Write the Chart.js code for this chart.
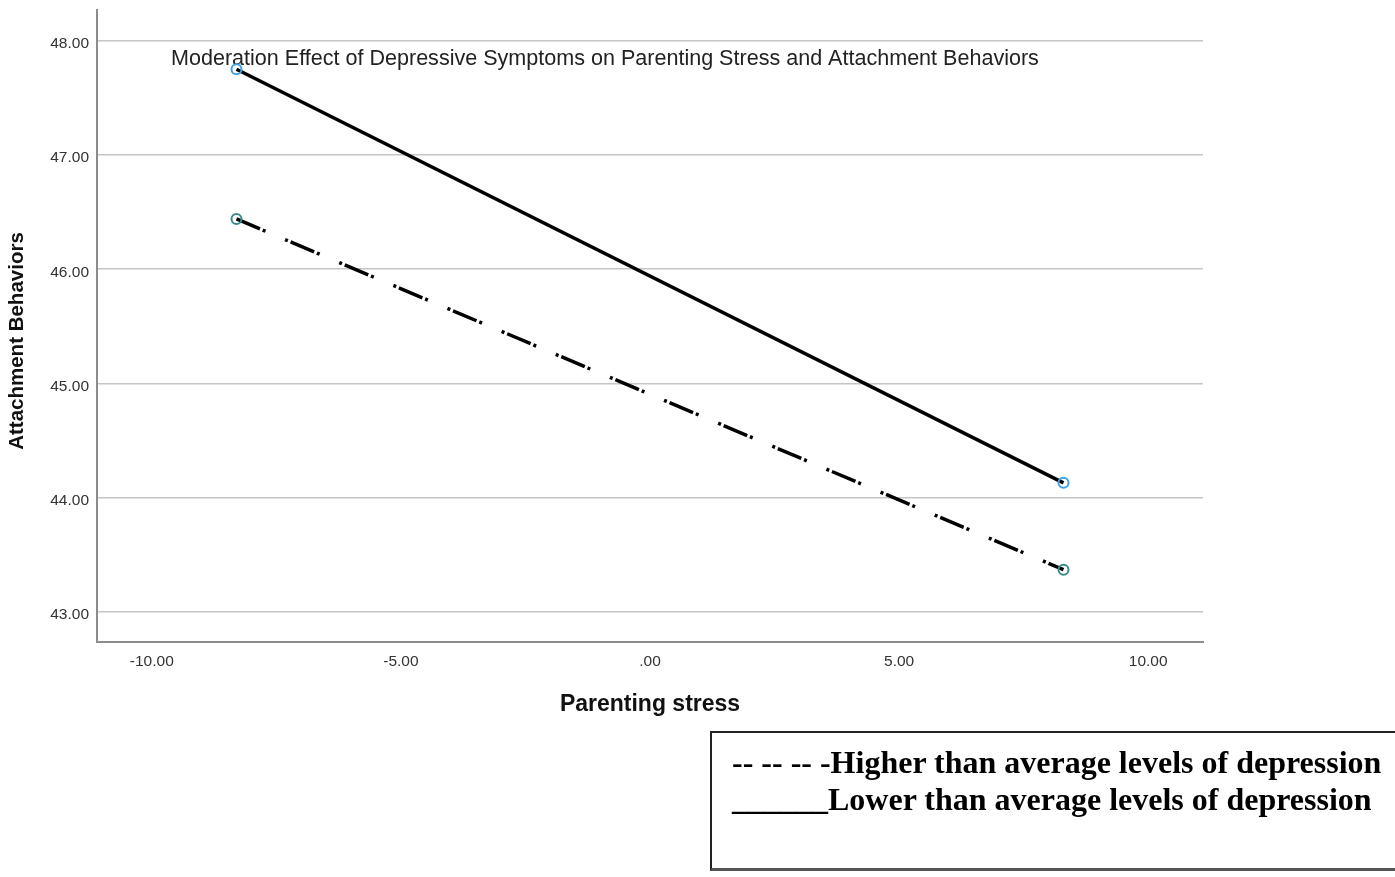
<!DOCTYPE html>
<html>
<head>
<meta charset="utf-8">
<script src="https://cdn.jsdelivr.net/npm/chart.js@4.4.1/dist/chart.umd.min.js"></script>
<style>
  body { margin: 0; background: #fff; }
  #wrap { position: relative; width: 1395px; height: 877px; overflow: hidden; }
  #legendBox {
    position: absolute; left: 710px; top: 731px; width: 720px; height: 140px;
    box-sizing: border-box; border: 2px solid #222; border-bottom: 3px solid #555;
    padding: 11px 0 0 20px; white-space: nowrap; color: #000;
    font: bold 32px "Liberation Serif", "Times New Roman", serif; line-height: 37px;
  }
</style>
</head>
<body>
<div id="wrap">
  <canvas id="chart" width="1395" height="877"></canvas>
  <div id="legendBox">
    <div>-- -- -- -Higher than average levels of depression</div>
    <div>______Lower than average levels of depression</div>
  </div>
</div>
<script>
const chartTitle = "Moderation Effect of Depressive Symptoms on Parenting Stress and Attachment Behaviors";
const xTitle = "Parenting stress";
const yTitle = "Attachment Behaviors";

// parenting stress at -1 SD / +1 SD
const stressLevels = [-8.30, 8.30];
const lowDepression = [47.75, 44.13];   // solid line
const highDepression = [46.44, 43.37];  // dash-dot line
const xTicks = [-10, -5, 0, 5, 10];
const yTicks = [43, 44, 45, 46, 47, 48];

function fmt(v) {
    let s = Number(v).toFixed(2);
    if (Math.abs(v) < 1) s = s.replace('0.', '.');
    return s;
}

const textLayer = {
    id: 'textLayer',
    beforeDatasetsDraw(chart) {
        const { ctx, chartArea } = chart;
        ctx.save();
        ctx.fillStyle = '#222';
        ctx.font = '21.55px "Liberation Sans", Arial, sans-serif';
        ctx.textAlign = 'left';
        ctx.textBaseline = 'alphabetic';
        ctx.fillText(chartTitle, chartArea.left + 74, chartArea.top + 55);

        ctx.fillStyle = '#111';
        ctx.font = 'bold 23px "Liberation Sans", Arial, sans-serif';
        ctx.textAlign = 'center';
        ctx.fillText(xTitle, (chartArea.left + chartArea.right) / 2, chartArea.bottom + 69);

        ctx.font = 'bold 20.5px "Liberation Sans", Arial, sans-serif';
        ctx.textBaseline = 'middle';
        ctx.translate(17, chartArea.top + 331);
        ctx.rotate(-Math.PI / 2);
        ctx.fillText(yTitle, 0, 0);
        ctx.restore();
    }
};

new Chart(document.getElementById('chart'), {
    type: 'line',
    data: {
        datasets: [
            {
                label: 'Lower than average levels of depression',
                data: stressLevels.map((x, i) => ({ x: x, y: lowDepression[i] })),
                borderColor: '#000',
                borderWidth: 3.5,
                pointRadius: 5,
                pointBorderWidth: 2,
                pointBorderColor: '#3ea0e8',
                pointBackgroundColor: 'rgba(255,255,255,0)',
                fill: false
            },
            {
                label: 'Higher than average levels of depression',
                data: stressLevels.map((x, i) => ({ x: x, y: highDepression[i] })),
                borderColor: '#000',
                borderWidth: 3.5,
                borderDash: [25.5, 3, 3, 21.3, 3, 3],
                pointRadius: 5,
                pointBorderWidth: 2,
                pointBorderColor: '#3a8c8c',
                pointBackgroundColor: 'rgba(255,255,255,0)',
                fill: false
            }
        ]
    },
    options: {
        responsive: false,
        animation: false,
        devicePixelRatio: 1,
        layout: { padding: { top: 10, right: 192, left: 0, bottom: 0 } },
        plugins: {
            legend: { display: false },
            tooltip: { enabled: false }
        },
        scales: {
            x: {
                type: 'linear',
                min: -11.1,
                max: 11.1,
                afterBuildTicks: scale => { scale.ticks = xTicks.map(v => ({ value: v })); },
                afterFit: scale => {
                    scale.height = 235;
                    scale.paddingLeft = 0;
                    scale.paddingRight = 0;
                },
                grid: { display: false, drawTicks: false },
                border: { display: true, color: '#8c8c8c', width: 2 },
                ticks: {
                    padding: 10,
                    color: '#333',
                    font: { family: '"Liberation Sans", Arial, sans-serif', size: 15.5 },
                    callback: v => fmt(v),
                    maxRotation: 0
                }
            },
            y: {
                min: 42.737,
                max: 48.269,
                afterBuildTicks: scale => { scale.ticks = yTicks.map(v => ({ value: v })); },
                afterFit: scale => {
                    scale.width = 97;
                    scale.paddingTop = 0;
                    scale.paddingBottom = 0;
                },
                grid: { color: '#c6c6c6', lineWidth: 1.5, drawTicks: false },
                border: { display: true, color: '#8c8c8c', width: 2 },
                ticks: {
                    padding: 8,
                    labelOffset: 3,
                    color: '#333',
                    font: { family: '"Liberation Sans", Arial, sans-serif', size: 15.5 },
                    callback: v => fmt(v)
                }
            }
        }
    },
    plugins: [textLayer]
});
</script>
</body>
</html>
